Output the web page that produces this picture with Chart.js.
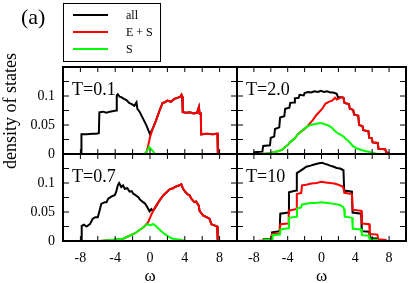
<!DOCTYPE html>
<html><head><meta charset="utf-8">
<script src="https://cdn.jsdelivr.net/npm/chart.js@4"></script>
<style>
html,body{margin:0;padding:0;background:#fff;}
#wrap{position:relative;width:415px;height:283px;overflow:hidden;font-family:"Liberation Serif","Times New Roman",serif;color:#000;}
canvas{position:absolute;left:0;top:0;}
.t{position:absolute;white-space:nowrap;line-height:1;}
.ln{position:absolute;height:2px;width:35px;left:73px;}
</style></head><body>
<div id="wrap">
<canvas id="c0" width="415" height="283"></canvas>
<canvas id="c1" width="415" height="283"></canvas>
<canvas id="c2" width="415" height="283"></canvas>
<canvas id="c3" width="415" height="283"></canvas>
<div class="t" style="left:21px;top:6px;font-size:22px;">(a)</div>
<div style="position:absolute;left:63px;top:3px;width:96px;height:57px;border:1px solid #000;"></div>
<div class="ln" style="top:14px;background:#000;"></div>
<div class="ln" style="top:31px;background:#ff0000;"></div>
<div class="ln" style="top:48px;background:#00ff00;"></div>
<div class="t" style="left:126px;top:9.3px;font-size:12px;">all</div>
<div class="t" style="left:126px;top:26.2px;font-size:12px;">E + S</div>
<div class="t" style="left:126px;top:43px;font-size:12px;">S</div>
<div class="t" style="left:10px;top:110.5px;font-size:18px;transform:translate(-50%,-50%) rotate(-90deg);">density of states</div>
</div>
<script>
// ---- axis setup ----
const X_MIN = -10, X_MAX = 10, X_STEP = 2;
const Y_MIN = 0, Y_MAX = 0.15, Y_STEP = 0.025;
const xTickLabels = [-8, -4, 0, 4, 8];
const yTickLabels = [0, 0.05, 0.1];
const seriesNames = ['all', 'E + S', 'S'];
const panelNames = ['T=0.1', 'T=2.0', 'T=0.7', 'T=10'];

// ---- data: [omega, density] ----
const all_T01 = [[-10,0],[-7.92,0],[-7.88,0.034],[-7.3,0.034],[-6.6,0.035],[-6.2,0.035],[-5.88,0.036],[-5.82,0.072],[-5.4,0.073],[-5.0,0.071],[-4.6,0.073],[-4.2,0.074],[-3.9,0.075],[-3.82,0.101],[-3.7,0.103],[-3.5,0.099],[-3.3,0.098],[-3.0,0.095],[-2.7,0.093],[-2.4,0.088],[-2.1,0.086],[-1.8,0.083],[-1.55,0.089],[-1.45,0.078],[-1.2,0.073],[-0.8,0.061],[-0.4,0.049],[0,0.034],[0.35,0.045],[0.7,0.058],[1.1,0.075],[1.45,0.088],[1.7,0.089],[2.0,0.092],[2.4,0.090],[2.8,0.095],[3.2,0.097],[3.5,0.099],[3.62,0.102],[3.7,0.099],[3.76,0.072],[4.2,0.071],[4.6,0.072],[5.0,0.070],[5.4,0.071],[5.62,0.081],[5.7,0.070],[5.84,0.070],[5.88,0.034],[6.5,0.035],[7.2,0.034],[7.75,0.035],[7.8,0],[10,0]];
const es_T01 = [[-10,0],[-0.45,0],[-0.2,0.015],[0,0.029],[0.35,0.045],[0.7,0.058],[1.1,0.075],[1.45,0.088],[1.7,0.089],[2.0,0.092],[2.4,0.090],[2.8,0.095],[3.2,0.097],[3.5,0.099],[3.62,0.102],[3.7,0.099],[3.76,0.072],[4.2,0.071],[4.6,0.072],[5.0,0.070],[5.4,0.071],[5.62,0.081],[5.7,0.070],[5.84,0.070],[5.88,0.034],[6.5,0.035],[7.2,0.034],[7.75,0.035],[7.8,0],[10,0]];
const s_T01 = [[-10,0],[-0.7,0],[-0.35,0.005],[-0.1,0.012],[0.2,0.007],[0.6,0],[10,0]];

const all_T07 = [[-10,0],[-7.92,0],[-7.85,0.026],[-7.6,0.028],[-7.3,0.025],[-6.9,0.029],[-6.6,0.038],[-6.3,0.041],[-6.0,0.041],[-5.8,0.052],[-5.6,0.064],[-5.2,0.067],[-5.0,0.067],[-4.8,0.073],[-4.5,0.076],[-4.25,0.078],[-4.05,0.079],[-3.9,0.084],[-3.7,0.096],[-3.55,0.100],[-3.3,0.093],[-3.1,0.096],[-2.9,0.090],[-2.6,0.091],[-2.35,0.085],[-2.1,0.086],[-1.95,0.082],[-1.57,0.078],[-1.3,0.075],[-1.2,0.072],[-0.8,0.067],[-0.6,0.065],[-0.42,0.061],[-0.2,0.055],[-0.05,0.051],[0.15,0.055],[0.35,0.052],[0.73,0.061],[1.1,0.070],[1.5,0.078],[1.9,0.084],[2.26,0.089],[2.64,0.091],[3.0,0.094],[3.4,0.096],[3.6,0.098],[3.8,0.090],[4.1,0.084],[4.37,0.080],[4.55,0.079],[4.75,0.073],[5.1,0.067],[5.3,0.068],[5.6,0.061],[5.7,0.052],[6.1,0.044],[6.5,0.041],[6.86,0.038],[7.05,0.029],[7.4,0.027],[7.72,0.025],[7.78,0],[10,0]];
const es_T07 = [[-10,0],[-5.8,0],[-4.25,0.002],[-3.1,0.004],[-2.35,0.009],[-1.76,0.013],[-1.2,0.019],[-0.9,0.022],[-0.6,0.026],[-0.23,0.032],[0.04,0.041],[0.35,0.052],[0.73,0.061],[1.1,0.070],[1.5,0.078],[1.9,0.084],[2.26,0.089],[2.64,0.091],[3.0,0.094],[3.4,0.096],[3.6,0.098],[3.8,0.090],[4.1,0.084],[4.37,0.080],[4.55,0.079],[4.75,0.073],[5.1,0.067],[5.3,0.068],[5.6,0.061],[5.7,0.052],[6.1,0.044],[6.5,0.041],[6.86,0.038],[7.05,0.029],[7.4,0.027],[7.72,0.025],[7.78,0],[10,0]];
const s_T07 = [[-10,0],[-5.8,0],[-4.25,0.002],[-3.1,0.004],[-2.35,0.009],[-1.76,0.013],[-1.2,0.019],[-0.9,0.022],[-0.6,0.026],[-0.3,0.029],[-0.1,0.028],[0.04,0.027],[0.3,0.029],[0.5,0.028],[0.73,0.025],[1.0,0.021],[1.3,0.017],[1.6,0.013],[1.9,0.010],[2.3,0.006],[2.64,0.004],[3.4,0.002],[4.2,0],[10,0]];

const all_T20 = [[-10,0],[-8.0,0],[-7.95,0.003],[-7.0,0.004],[-6.9,0.014],[-6.1,0.015],[-6.0,0.028],[-5.6,0.030],[-5.5,0.043],[-5.0,0.046],[-4.9,0.063],[-4.4,0.065],[-4.3,0.078],[-3.8,0.080],[-3.7,0.088],[-3.25,0.089],[-3.15,0.096],[-2.7,0.097],[-2.6,0.102],[-2.1,0.101],[-2.0,0.105],[-1.6,0.107],[-1.2,0.106],[-0.85,0.108],[-0.4,0.107],[-0.1,0.109],[0.3,0.107],[0.65,0.108],[1.05,0.106],[1.4,0.106],[1.8,0.104],[1.95,0.098],[2.4,0.098],[2.6,0.097],[2.72,0.088],[3.25,0.086],[3.35,0.078],[3.75,0.076],[3.85,0.068],[4.35,0.066],[4.45,0.050],[4.85,0.048],[4.95,0.041],[5.55,0.039],[5.65,0.028],[5.95,0.027],[6.05,0.020],[6.65,0.019],[6.75,0.009],[7.55,0.008],[7.65,0.003],[7.9,0.002],[7.98,0],[10,0]];
const es_T20 = [[-10,0],[-7.5,0],[-6.5,0.001],[-5.6,0.003],[-4.9,0.006],[-4.6,0.008],[-4.3,0.012],[-3.9,0.017],[-3.7,0.021],[-3.4,0.024],[-3.15,0.027],[-2.8,0.034],[-2.4,0.039],[-2.0,0.043],[-1.6,0.049],[-1.3,0.054],[-1.05,0.058],[-0.67,0.066],[-0.3,0.072],[0.1,0.078],[0.3,0.083],[0.48,0.087],[0.86,0.090],[1.25,0.092],[1.6,0.097],[1.8,0.094],[2.1,0.096],[2.4,0.098],[2.6,0.097],[2.72,0.088],[3.25,0.086],[3.35,0.078],[3.75,0.076],[3.85,0.068],[4.35,0.066],[4.45,0.050],[4.85,0.048],[4.95,0.041],[5.55,0.039],[5.65,0.028],[5.95,0.027],[6.05,0.020],[6.65,0.019],[6.75,0.009],[7.55,0.008],[7.65,0.003],[7.9,0.002],[7.98,0],[10,0]];
const s_T20 = [[-10,0],[-7.5,0],[-6.5,0.001],[-5.6,0.003],[-4.9,0.006],[-4.6,0.008],[-4.3,0.012],[-3.9,0.017],[-3.7,0.021],[-3.4,0.024],[-3.15,0.027],[-2.8,0.034],[-2.5,0.037],[-2.2,0.042],[-1.9,0.045],[-1.6,0.048],[-1.3,0.050],[-1.05,0.051],[-0.6,0.052],[-0.3,0.053],[0.1,0.053],[0.4,0.051],[0.67,0.050],[0.95,0.048],[1.25,0.045],[1.5,0.041],[1.8,0.037],[2.2,0.034],[2.6,0.030],[2.9,0.026],[3.15,0.023],[3.4,0.019],[3.7,0.014],[4.0,0.011],[4.3,0.009],[4.9,0.006],[5.65,0.0035],[6.4,0.001],[6.8,0],[10,0]];

const all_T10 = [[-10,0],[-7.0,0],[-6.85,0.003],[-5.9,0.004],[-5.85,0.015],[-4.95,0.017],[-4.88,0.047],[-3.9,0.049],[-3.85,0.084],[-3.0,0.087],[-2.92,0.117],[-2.6,0.120],[-2.2,0.124],[-1.8,0.128],[-1.3,0.130],[-0.86,0.132],[-0.3,0.134],[0.1,0.135],[0.4,0.133],[0.67,0.132],[1.0,0.130],[1.44,0.128],[1.8,0.126],[2.2,0.125],[2.6,0.122],[2.68,0.087],[3.6,0.085],[3.68,0.049],[4.7,0.047],[4.76,0.017],[5.65,0.016],[5.72,0.005],[6.65,0.004],[6.72,0],[10,0]];
const es_T10 = [[-10,0],[-7.7,0],[-6.9,0.001],[-6.85,0.002],[-5.9,0.003],[-5.85,0.012],[-4.95,0.013],[-4.88,0.029],[-3.95,0.030],[-3.88,0.052],[-3.0,0.055],[-2.92,0.081],[-2.4,0.083],[-2.3,0.096],[-1.8,0.097],[-1.2,0.099],[-0.6,0.100],[0,0.102],[0.5,0.101],[1.0,0.100],[1.5,0.099],[2.0,0.097],[2.5,0.094],[2.62,0.090],[2.7,0.083],[3.6,0.081],[3.68,0.054],[4.7,0.052],[4.78,0.030],[5.65,0.029],[5.72,0.012],[6.62,0.011],[6.7,0.003],[7.6,0.002],[7.7,0],[10,0]];
const s_T10 = [[-10,0],[-7.0,0],[-6.8,0.002],[-5.85,0.003],[-5.78,0.010],[-4.92,0.011],[-4.85,0.020],[-3.92,0.022],[-3.85,0.040],[-2.98,0.042],[-2.9,0.056],[-2.4,0.058],[-2.3,0.063],[-1.5,0.065],[-0.5,0.066],[0,0.067],[0.5,0.066],[1.5,0.064],[2.2,0.062],[2.6,0.058],[2.68,0.055],[2.75,0.042],[3.62,0.040],[3.7,0.021],[4.7,0.020],[4.78,0.010],[5.62,0.009],[5.7,0.003],[6.6,0.002],[6.7,0],[10,0]];

const seriesColors = ['#000000', '#ff0000', '#00ff00'];
const SERIF = '"Liberation Serif", "Times New Roman", serif';

function pts(a) { return a.map(p => ({ x: p[0], y: p[1] })); }
function isIn(v, list) { return list.some(t => Math.abs(t - v) < 1e-9); }

const framePlugin = {
  id: 'frame',
  afterDatasetsDraw(chart, args, opts) {
    const { ctx, chartArea: { left, right, top, bottom }, scales: { x, y } } = chart;
    ctx.save();
    ctx.strokeStyle = '#000';
    ctx.lineWidth = 1;
    ctx.beginPath();
    x.ticks.forEach(t => {
      const p = x.getPixelForValue(t.value);
      if (p <= left + 1 || p >= right - 1) return;
      ctx.moveTo(p, bottom); ctx.lineTo(p, bottom - 5);
      ctx.moveTo(p, top); ctx.lineTo(p, top + 5);
    });
    y.ticks.forEach(t => {
      const p = y.getPixelForValue(t.value);
      if (p <= top + 1 || p >= bottom - 1) return;
      ctx.moveTo(left, p); ctx.lineTo(left + 6, p);
      ctx.moveTo(right, p); ctx.lineTo(right - 6, p);
    });
    ctx.stroke();
    ctx.lineWidth = 2;
    ctx.strokeRect(left, top, right - left, bottom - top);
    ctx.fillStyle = '#000';
    ctx.font = '18px ' + SERIF;
    ctx.textBaseline = 'alphabetic';
    ctx.textAlign = 'left';
    ctx.fillText(opts.label, left + 9, top + 27.5);
    ctx.restore();
  }
};

function makePanel(id, area, sets, label, showY, showX) {
  const yWidth = showY ? area.left : 0;
  const xHeight = showX ? 283 - area.bottom : 0;
  return new Chart(document.getElementById(id), {
    type: 'line',
    data: {
      datasets: [
        { label: seriesNames[2], data: pts(sets[2]), borderColor: seriesColors[2] },
        { label: seriesNames[1], data: pts(sets[1]), borderColor: seriesColors[1] },
        { label: seriesNames[0], data: pts(sets[0]), borderColor: seriesColors[0] }
      ]
    },
    options: {
      responsive: false, animation: false, devicePixelRatio: 1,
      layout: { autoPadding: false, padding: {
        left: showY ? 0 : area.left,
        right: 415 - area.right,
        top: area.top,
        bottom: showX ? 0 : 283 - area.bottom } },
      elements: { point: { radius: 0 }, line: { borderWidth: 2, tension: 0, fill: false } },
      plugins: { legend: { display: false }, tooltip: { enabled: false }, frame: { label } },
      scales: {
        x: {
          type: 'linear', min: X_MIN, max: X_MAX,
          grid: { display: false, drawTicks: false }, border: { display: false },
          ticks: { stepSize: X_STEP, autoSkip: false, maxRotation: 0, padding: 9, color: '#000',
            font: { family: SERIF, size: 14 },
            callback: v => (showX && isIn(v, xTickLabels)) ? String(v) : '' },
          title: { display: showX, text: 'ω', color: '#000', font: { family: SERIF, size: 17 }, padding: { top: 0, bottom: -4 } },
          afterFit: s => { s.height = xHeight; }
        },
        y: {
          type: 'linear', min: Y_MIN, max: Y_MAX,
          grid: { display: false, drawTicks: false }, border: { display: false },
          ticks: { stepSize: Y_STEP, autoSkip: false, padding: 8, color: '#000',
            font: { family: SERIF, size: 14 },
            callback: v => (showY && isIn(v, yTickLabels)) ? String(+v.toFixed(3)) : '' },
          afterFit: s => { s.width = yWidth; }
        }
      }
    },
    plugins: [framePlugin]
  });
}

makePanel('c0', { left: 63, right: 237, top: 67, bottom: 154 }, [all_T01, es_T01, s_T01], panelNames[0], true, false);
makePanel('c1', { left: 237, right: 411, top: 67, bottom: 154 }, [all_T20, es_T20, s_T20], panelNames[1], false, false);
makePanel('c2', { left: 63, right: 237, top: 154, bottom: 241 }, [all_T07, es_T07, s_T07], panelNames[2], true, true);
makePanel('c3', { left: 237, right: 411, top: 154, bottom: 241 }, [all_T10, es_T10, s_T10], panelNames[3], false, true);
</script>
</body></html>
